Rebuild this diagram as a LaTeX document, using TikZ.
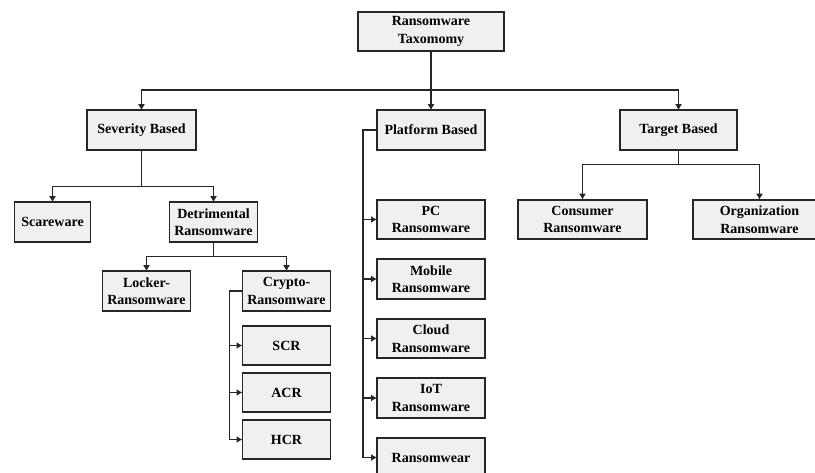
\documentclass[tikz,border=0pt]{standalone}
\usepackage{fontspec}
\setmainfont{Liberation Serif}
\usetikzlibrary{arrows.meta,positioning}
\definecolor{boxfill}{HTML}{EFF0F2}
\definecolor{boxline}{HTML}{262626}

\begin{document}
\begin{tikzpicture}[x=1pt,y=1pt,font=\fontsize{14}{17.5}\selectfont\bfseries,
    box/.style={draw=boxline,line width=1.7pt,fill=boxfill,align=center,inner sep=2pt,outer sep=0pt,minimum height=39.5pt},
    link/.style={draw=boxline,line width=1.7pt,-{Latex[length=6pt,width=7pt]}}]
  \useasboundingbox (0,0) rectangle (815,-473);
  \node (root) [box,minimum width=146pt] at (431,-31.5) {Ransomware\\Taxomomy};
  \node (sev) [box,minimum width=109pt,below left=59pt and 162pt of root] {Severity Based};
  \node (plat) [box,minimum width=108pt,below=59pt of root] {Platform Based};
  \node (targ) [box,minimum width=117pt,below right=59pt and 116pt of root] {Target Based};
  \node (scare) [box,minimum width=76pt,below=52.5pt of sev,xshift=-89pt] {Scareware};
  \node (detr) [box,minimum width=88pt,below=52.5pt of sev,xshift=72pt] {Detrimental\\Ransomware};
  \node (lock) [box,minimum width=88pt,below=29.5pt of detr,xshift=-67pt] {Locker-\\Ransomware};
  \node (crypt) [box,minimum width=88pt,below=29.5pt of detr,xshift=73pt] {Crypto-\\Ransomware};
  \node (scr) [box,minimum width=88pt,below=15pt of crypt] {SCR};
  \node (acr) [box,minimum width=88pt,below=7.5pt of scr] {ACR};
  \node (hcr) [box,minimum width=88pt,below=7.5pt of acr] {HCR};
  \node (pc) [box,minimum width=108pt,below=50pt of plat] {PC\\Ransomware};
  \node (mobile) [box,minimum width=108pt,below=20pt of pc] {Mobile\\Ransomware};
  \node (cloud) [box,minimum width=108pt,below=20pt of mobile] {Cloud\\Ransomware};
  \node (iot) [box,minimum width=108pt,below=20pt of cloud] {IoT\\Ransomware};
  \node (wear) [box,minimum width=108pt,below=20pt of iot] {Ransomwear};
  \node (cons) [box,minimum width=129pt,below=50pt of targ,xshift=-96pt] {Consumer\\Ransomware};
  \node (org) [box,minimum width=133pt,below=50pt of targ,xshift=81pt] {Organization\\Ransomware};
  \draw[link] (root.south) -- ++(0,-38.75) -| (sev);
  \draw[link] (root) -- (plat);
  \draw[link] (root.south) -- ++(0,-38.75) -| (targ);
  \draw[link] (sev.south) -- ++(0,-36.75) -| (scare);
  \draw[link] (sev.south) -- ++(0,-36.75) -| (detr);
  \draw[link] (detr.south) -- ++(0,-14.75) -| (lock);
  \draw[link] (detr.south) -- ++(0,-14.75) -| (crypt);
  \draw[link] (targ.south) -- ++(0,-14.75) -| (cons);
  \draw[link] (targ.south) -- ++(0,-14.75) -| (org);
  \foreach \leaf in {scr,acr,hcr}
    \draw[link] (crypt.west) -- ++(-13,0) |- (\leaf.west);
  \foreach \leaf in {pc,mobile,cloud,iot,wear}
    \draw[link] (plat.west) -- ++(-14,0) |- (\leaf.west);
\end{tikzpicture}
\end{document}
